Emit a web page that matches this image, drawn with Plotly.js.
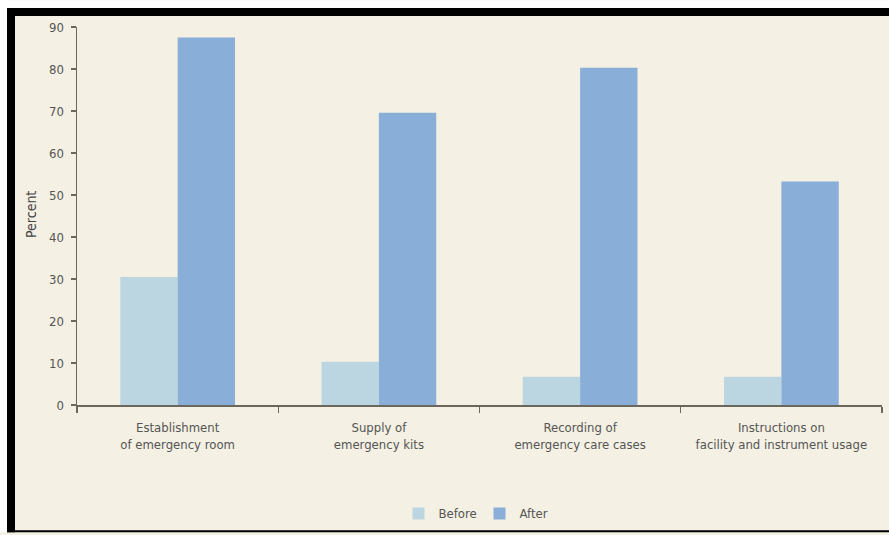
<!DOCTYPE html>
<html>
<head>
<meta charset="utf-8">
<script src="https://cdn.plot.ly/plotly-3.0.1.min.js"></script>
<style>html,body{margin:0;padding:0;background:#fff;}#chart{width:889px;height:535px;}</style>
</head>
<body>
<div id="chart"></div>
<script>
const categories = [
  "Establishment<br>of emergency room",
  "Supply of<br>emergency kits",
  "Recording of<br>emergency care cases",
  "Instructions on<br>facility and instrument usage"
];
const beforeValues = [30.5, 10.3, 6.7, 6.7];
const afterValues = [87.5, 69.6, 80.3, 53.2];
const yTicks = [0, 10, 20, 30, 40, 50, 60, 70, 80, 90];

const W = 889, H = 535, L = 77, R = 7, T = 27, B = 128;
const pw = W - L - R, ph = H - T - B;
const px = v => (v - L) / pw;
const py = v => (H - B - v) / ph;

const font = "'Liberation Sans Narrow', 'DejaVu Sans Condensed', 'Liberation Sans', sans-serif";

const traces = [
  {type: 'bar', name: 'Before', x: categories, y: beforeValues, marker: {color: '#bcd6e1'}},
  {type: 'bar', name: 'After', x: categories, y: afterValues, marker: {color: '#89aed7'}}
];

const layout = {
  width: W, height: H,
  margin: {l: L, r: R, t: T, b: B, pad: 0},
  paper_bgcolor: '#f4f0e3',
  plot_bgcolor: '#f4f0e3',
  barmode: 'group',
  bargap: 0.43,
  bargroupgap: 0,
  font: {family: font, size: 13, color: '#555'},
  showlegend: true,
  legend: {orientation: 'h', x: 0.5, xanchor: 'center', y: py(516), yanchor: 'middle',
           font: {family: font, size: 13, color: '#555'}, itemwidth: 30, entrywidth: 36, entrywidthmode: 'pixels',
           bgcolor: 'rgba(0,0,0,0)'},
  xaxis: {
    type: 'category', tickson: 'boundaries', ticks: 'outside', ticklen: 6, tickwidth: 1.3,
    tickcolor: '#6b675c', showline: true, linecolor: '#6b675c', linewidth: 1.5,
    showgrid: false, zeroline: false, ticklabelstandoff: 10,
    tickfont: {family: font, size: 13, color: '#555'}
  },
  yaxis: {
    range: [0, 90], tickvals: yTicks, ticks: 'outside', ticklen: 5, tickwidth: 1.3,
    tickcolor: '#6b675c', showline: true, linecolor: '#6b675c', linewidth: 1.5,
    showgrid: false, zeroline: false, ticklabelstandoff: 4,
    tickfont: {family: font, size: 13, color: '#555'}
  },
  annotations: [{
    text: 'Percent', xref: 'paper', yref: 'paper', x: px(31), y: py(216),
    xanchor: 'center', yanchor: 'middle', textangle: -90, showarrow: false,
    font: {family: font, size: 14, color: '#444'}
  }],
  shapes: [
    {type: 'rect', xref: 'paper', yref: 'paper', x0: px(0), x1: px(W), y0: py(0), y1: py(8), fillcolor: '#fff', line: {width: 0}, layer: 'above'},
    {type: 'rect', xref: 'paper', yref: 'paper', x0: px(0), x1: px(W), y0: py(8), y1: py(16), fillcolor: '#000', line: {width: 0}, layer: 'above'},
    {type: 'rect', xref: 'paper', yref: 'paper', x0: px(0), x1: px(7), y0: py(0), y1: py(H), fillcolor: '#fff', line: {width: 0}, layer: 'above'},
    {type: 'rect', xref: 'paper', yref: 'paper', x0: px(7), x1: px(15), y0: py(8), y1: py(H), fillcolor: '#000', line: {width: 0}, layer: 'above'},
    {type: 'rect', xref: 'paper', yref: 'paper', x0: px(7), x1: px(W), y0: py(533), y1: py(H), fillcolor: '#000', line: {width: 0}, layer: 'above'}
  ]
};

Plotly.newPlot('chart', traces, layout, {displayModeBar: false, staticPlot: true});
</script>
</body>
</html>
